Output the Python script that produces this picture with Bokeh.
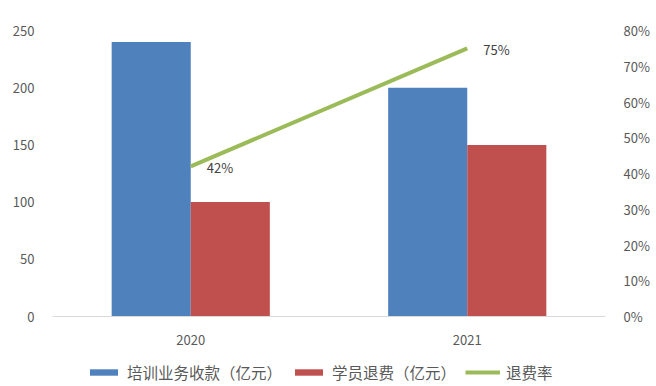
from bokeh.plotting import figure
from bokeh.models import (ColumnDataSource, FactorRange, Range1d, LinearAxis,
                          FixedTicker, NumeralTickFormatter, Legend, LegendItem)
from bokeh.transform import dodge
from bokeh.core.properties import value
from bokeh.embed import file_html
from bokeh.resources import INLINE

years = ["2020", "2021"]
income = [240, 200]          # 培训业务收款（亿元）
refunds = [100, 150]         # 学员退费（亿元）
rate = [0.42, 0.75]          # 退费率
rate_labels = ["42%", "75%"]
left_ticks = [0, 50, 100, 150, 200, 250]
right_ticks = [0, 0.1, 0.2, 0.3, 0.4, 0.5, 0.6, 0.7, 0.8]

src = ColumnDataSource(dict(years=years, income=income, refunds=refunds,
                            rate=rate, rate_labels=rate_labels))

FONT = "Noto Sans CJK SC"
TICK_COLOR = "#595959"

# plot area 286 px for data, plus 70 px below the baseline for axis labels + legend
DATA_PX = 286
EXTRA_PX = 70
LEFT_MAX = 250
RIGHT_MAX = 0.8

p = figure(frame_width=553, frame_height=DATA_PX + EXTRA_PX,
           x_range=FactorRange(*years, range_padding=0),
           y_range=Range1d(-LEFT_MAX * EXTRA_PX / DATA_PX, LEFT_MAX),
           output_backend="svg", toolbar_location=None,
           min_border_left=52, min_border_right=43, min_border_top=30,
           min_border_bottom=0)
p.extra_y_ranges = {"pct": Range1d(-RIGHT_MAX * EXTRA_PX / DATA_PX, RIGHT_MAX)}

bw = 0.286
r1 = p.vbar(x=dodge("years", -bw / 2, range=p.x_range), top="income", width=bw,
            source=src, color="#4F81BD", line_color=None)
r2 = p.vbar(x=dodge("years", bw / 2, range=p.x_range), top="refunds", width=bw,
            source=src, color="#C0504D", line_color=None)
r3 = p.line(x="years", y="rate", source=src, y_range_name="pct",
            line_color="#9BBB59", line_width=4)
p.text(x="years", y="rate", text="rate_labels", source=src, y_range_name="pct",
       x_offset=16, y_offset=1, text_baseline="middle", text_align="left",
       text_font=value(FONT), text_font_size="13px", text_color="#404040")

p.grid.visible = False
p.outline_line_color = None

# left axis
ya = p.yaxis[0]
ya.ticker = FixedTicker(ticks=left_ticks)
ya.axis_line_color = None
ya.major_tick_line_color = None
ya.minor_tick_line_color = None
ya.major_label_text_font = FONT
ya.major_label_text_font_size = "13px"
ya.major_label_text_color = TICK_COLOR
ya.major_label_standoff = 12

# right axis
ra = LinearAxis(y_range_name="pct", ticker=FixedTicker(ticks=right_ticks),
                formatter=NumeralTickFormatter(format="0%"))
ra.axis_line_color = None
ra.major_tick_line_color = None
ra.minor_tick_line_color = None
ra.major_label_text_font = FONT
ra.major_label_text_font_size = "13px"
ra.major_label_text_color = TICK_COLOR
ra.major_label_standoff = 12
p.add_layout(ra, "right")

# x axis sits on the zero baseline
xa = p.xaxis[0]
xa.fixed_location = 0
xa.axis_line_color = "#D9D9D9"
xa.axis_line_width = 1
xa.major_tick_line_color = None
xa.minor_tick_line_color = None
xa.major_label_text_font = FONT
xa.major_label_text_font_size = "13px"
xa.major_label_text_color = TICK_COLOR
xa.major_label_standoff = 12

legend = Legend(items=[
    LegendItem(label="培训业务收款（亿元）", renderers=[r1]),
    LegendItem(label="学员退费（亿元）", renderers=[r2]),
    LegendItem(label="退费率", renderers=[r3]),
], orientation="horizontal", location=(34, 3))
legend.label_text_font = FONT
legend.label_text_font_size = "15.5px"
legend.label_text_color = TICK_COLOR
legend.glyph_width = 35
legend.glyph_height = 8
legend.label_height = 16
legend.label_standoff = 6
legend.spacing = 9
legend.padding = 2
legend.margin = 0
legend.border_line_color = None
legend.background_fill_alpha = 0
p.add_layout(legend, "center")

open("out.html", "w").write(file_html(p, INLINE))
